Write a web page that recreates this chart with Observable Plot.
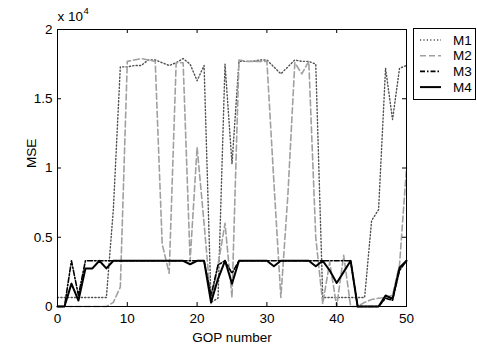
<!DOCTYPE html>
<html><head><meta charset="utf-8">
<script src="https://cdn.jsdelivr.net/npm/d3@7"></script>
<script src="https://cdn.jsdelivr.net/npm/@observablehq/plot@0.6"></script>
<style>
body{margin:0;background:#fff;}
#wrap{position:relative;width:477px;height:346px;font-family:"Liberation Sans",Arial,sans-serif;}
#legend{position:absolute;left:413px;top:28px;}
</style></head><body><div id="wrap"></div>
<script>
const gop = [0,1,2,3,4,5,6,7,8,9,10,11,12,13,14,15,16,17,18,19,20,21,22,23,24,25,26,27,28,29,30,31,32,33,34,35,36,37,38,39,40,41,42,43,44,45,46,47,48,49,50];
const M1 = [650,650,650,650,650,650,650,650,7000,17300,17300,17400,17400,17800,17800,17600,17400,17600,17900,17500,16300,17400,300,600,17500,10300,17700,17700,17700,17800,17800,17300,16800,17300,17800,17700,17700,17500,650,650,650,650,650,650,650,6200,7000,17200,13500,17200,17400];
const M2 = [0,0,0,0,0,0,0,0,300,1400,17700,17800,17900,17800,17700,4500,2400,17600,17600,3300,11500,6000,200,3000,6000,650,17800,17700,17700,17700,17700,9000,650,8000,17600,16800,17700,5000,200,3200,0,3700,0,0,300,500,600,650,800,3000,10000];
const M3 = [0,0,3300,800,3300,3300,3300,3300,3300,3300,3300,3300,3300,3300,3300,3300,3300,3300,3300,3300,3300,3300,800,3000,3300,2400,3300,3300,3300,3300,3300,3300,3300,3300,3300,3300,3300,3300,3300,3300,3300,3300,3300,0,0,0,0,600,450,2600,3300];
const M4 = [0,0,1650,430,2750,2750,3300,2750,3300,3300,3300,3300,3300,3300,3300,3300,3300,3300,3300,3050,3300,3300,300,2000,3300,1650,3300,3300,3300,3300,3300,2900,3300,3300,3300,3300,3300,2900,3300,2600,1700,2500,3300,0,0,0,0,800,550,2800,3300];
const seriesNames = ["M1","M2","M3","M4"];
const xTicks = [0,10,20,30,40,50];
const yTicks = [0,5000,10000,15000,20000];
const yTickLabels = ["0","0.5","1","1.5","2"];

const styles = {
  M1: {stroke:"#505050", strokeWidth:1.4, strokeDasharray:"1.2,2.2"},
  M2: {stroke:"#a0a0a0", strokeWidth:1.6, strokeDasharray:"6,3"},
  M3: {stroke:"#000", strokeWidth:1.6, strokeDasharray:"5,2,1.5,2"},
  M4: {stroke:"#000", strokeWidth:2}
};
const data = {M1, M2, M3, M4};

const W = 477, H = 346, mL = 57, mR = 71, mT = 29, mB = 40;
const pw = W - mL - mR, ph = H - mT - mB;
const font = "Liberation Sans, Arial, sans-serif";

const chart = Plot.plot({
  width: W, height: H,
  marginLeft: mL, marginRight: mR, marginTop: mT, marginBottom: mB,
  style: {fontFamily: font, fontSize: "13.5px", background: "white", color: "black"},
  x: {domain: [0, 50], ticks: xTicks},
  y: {domain: [0, 20000], ticks: yTicks},
  marks: [
    ...seriesNames.map(n => Plot.line(gop, {x: gop, y: data[n], ...styles[n], strokeLinejoin:"round"})),
    Plot.frame({stroke: "black"}),
    Plot.tickX(xTicks, {x: d => d, insetTop: ph - 4, stroke: "black"}),
    Plot.tickX(xTicks, {x: d => d, insetBottom: ph - 4, stroke: "black"}),
    Plot.tickY(yTicks, {y: d => d, insetRight: pw - 4, stroke: "black"}),
    Plot.tickY(yTicks, {y: d => d, insetLeft: pw - 4, stroke: "black"}),
    Plot.axisX({ticks: xTicks, tickSize: 0, tickPadding: 7, label: null, fontSize: 13.5}),
    Plot.axisY({ticks: yTicks, tickSize: 0, tickPadding: 5, label: null, fontSize: 13.5,
      tickFormat: d => yTickLabels[yTicks.indexOf(d)]}),
    Plot.text(["GOP number"], {frameAnchor: "bottom", dy: 31, text: d => d, fontSize: 13.5, lineAnchor: "middle"}),
    Plot.text(["MSE"], {frameAnchor: "left", dx: -26, rotate: -90, text: d => d, fontSize: 13.5, lineAnchor: "middle"}),
    Plot.text(["x 10"], {frameAnchor: "top-left", dy: -12.5, text: d => d, textAnchor: "start", fontSize: 13.5, lineAnchor: "middle"}),
    Plot.text(["4"], {frameAnchor: "top-left", dx: 26, dy: -19, text: d => d, textAnchor: "start", fontSize: 9.5, lineAnchor: "middle"})
  ]
});
const wrap = document.getElementById("wrap");
wrap.appendChild(chart);

// legend
const lg = d3.select(wrap).append("svg").attr("id","legend").attr("width",64).attr("height",73)
  .style("font-family", font);
lg.append("rect").attr("x",0.5).attr("y",0.5).attr("width",62).attr("height",71).attr("fill","white").attr("stroke","black");
seriesNames.forEach((n,i) => {
  const y = 12 + i*15.7;
  const s = styles[n];
  lg.append("line").attr("x1",7).attr("x2",28).attr("y1",y).attr("y2",y)
    .attr("stroke",s.stroke).attr("stroke-width",s.strokeWidth).attr("stroke-dasharray",s.strokeDasharray||null);
  lg.append("text").attr("x",40).attr("y",y).attr("dy","0.35em").attr("font-size",13.5).text(n);
});
</script></body></html>
